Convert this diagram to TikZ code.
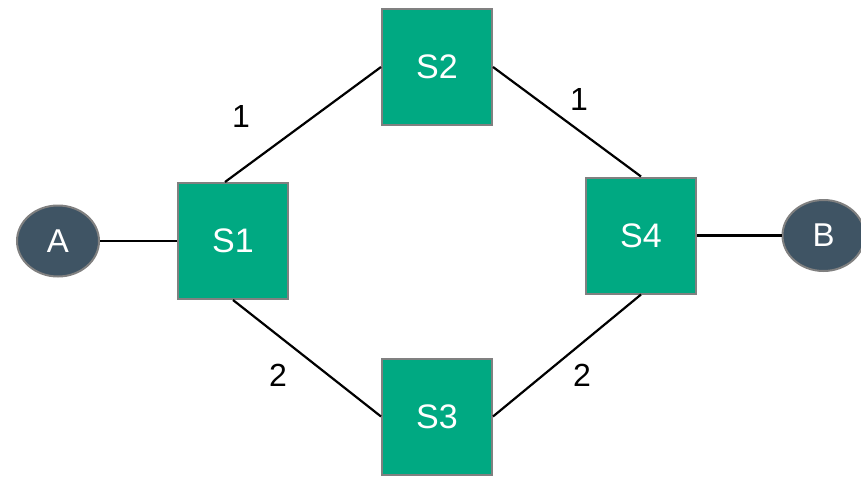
\documentclass[tikz,border=0pt]{standalone}
\usepackage{fontspec}
\setmainfont{Liberation Sans}
\usetikzlibrary{shapes.geometric}
\definecolor{swgreen}{HTML}{00A982}
\definecolor{hostblue}{HTML}{3F5464}
\definecolor{edgegray}{HTML}{808080}
\tikzset{
  switchbox/.style={rectangle, draw=edgegray, line width=2pt, fill=swgreen, minimum width=110pt, minimum height=116pt, inner sep=0pt, text=white, font=\fontsize{34}{38}\selectfont},
  hostnode/.style={ellipse, draw=edgegray, line width=2pt, fill=hostblue, minimum width=82pt, minimum height=71pt, inner sep=0pt, text=white, font=\fontsize{33}{36}\selectfont},
  link/.style={line width=2.2pt, black},
  cost/.style={font=\fontsize{32}{36}\selectfont, inner sep=0pt}
}
\begin{document}
\begin{tikzpicture}[x=1pt,y=-1pt]
\useasboundingbox (0,0) rectangle (861,476);
\node[hostnode] (A) at (58,241) {A};
\node[hostnode] (B) at (823.5,235.5) {B};
\node[switchbox] (S1) at (233,241) {S1};
\node[switchbox] (S2) at (437,67) {S2};
\node[switchbox] (S3) at (437,416.5) {S3};
\node[switchbox] (S4) at (641,235.5) {S4};
\draw[link] (A) -- (S1);
\draw[link] (S4) -- (B);
\draw[link] ([xshift=-8pt]S1.north) -- (S2.west);
\draw[link] (S2.east) -- (S4.north);
\draw[link] (S1.south) -- (S3.west);
\draw[link] (S3.east) -- (S4.south);
\node[cost] (c1) at (241,116.5) {1};
\node[cost] (c2) at (579,99) {1};
\node[cost] (c3) at (278,375) {2};
\node[cost] (c4) at (582,375) {2};
\end{tikzpicture}
\end{document}
